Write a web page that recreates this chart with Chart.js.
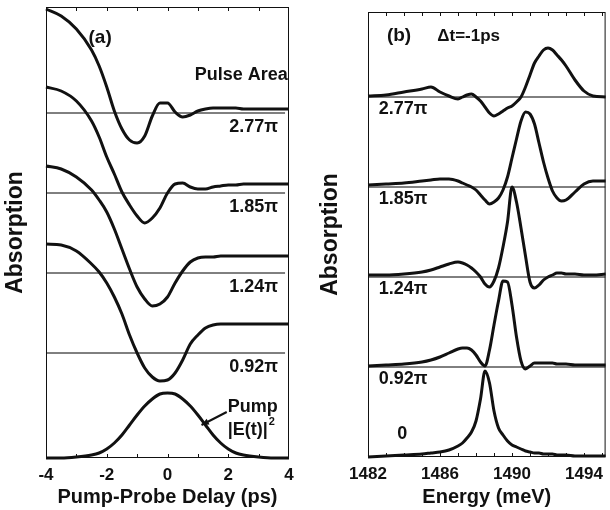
<!DOCTYPE html>
<html>
<head>
<meta charset="utf-8">
<script src="https://cdn.jsdelivr.net/npm/chart.js@4.4.1/dist/chart.umd.min.js"></script>
<style>
  html, body { margin: 0; padding: 0; background: #fff; }
  #wrap { position: relative; width: 610px; height: 510px; }
  canvas { position: absolute; top: 0; }
  #chartA { left: 0; }
  #chartB { left: 305px; }
</style>
</head>
<body>
<div id="wrap">
  <canvas id="chartA" width="305" height="510"></canvas>
  <canvas id="chartB" width="305" height="510"></canvas>
</div>
<script>
// ---- panel (a): absorption vs pump-probe delay ----
const delay = [-4, -3.5, -3, -2.5, -2.25, -2, -1.75, -1.5, -1.25, -1, -0.75, -0.5, -0.25, 0,
               0.25, 0.5, 0.75, 1, 1.25, 1.5, 1.75, 2, 2.25, 2.5, 3, 3.5, 4];
const delayLabels = [-4, -2, 0, 2, 4];
const delayMinor = [-3, -2, -1, 0, 1, 2, 3];
const areaNames = ["2.77π", "1.85π", "1.24π", "0.92π"];
const offsetsA = [345, 265, 185, 105];   // trace offsets (vertical shift)
const abs277 = [104, 97, 84, 63, 47, 26, 2, -16, -27, -30, -23, -3, 10, 10, 1, -4, -2, 2, 4, 5, 5, 5, 5, 4, 4, 4, 4];
const abs185 = [106, 102, 92, 72, 56, 36, 19, 1, -12, -23, -30, -25, -15, 0, 9, 10, 6, 4, 4, 6, 7, 8, 8, 9, 9, 9, 9];
const abs124 = [107, 104, 96, 83, 73, 61, 44, 24, 4, -14, -26, -33, -31, -24, -10, 2, 11, 15, 16, 16, 17, 17, 17, 17, 17, 17, 17];
const abs092 = [109, 108, 102, 89, 81, 70, 56, 39, 18, 0, -15, -24, -28, -27, -20, -7, 9, 18, 25, 28, 29, 29, 29, 29, 29, 29, 29];
const pumpInt = [0, 0, 1, 3, 5, 9, 15, 23, 33, 43, 52, 59, 64, 65, 64, 59, 52, 43, 33, 23, 15, 9, 5, 3, 1, 0, 0];

// ---- panel (b): absorption spectra at dt = -1 ps ----
const energy = [1482, 1483, 1484, 1485, 1485.5, 1486, 1486.5, 1487, 1487.25, 1487.5, 1487.75, 1488,
                1488.25, 1488.5, 1488.75, 1489, 1489.25, 1489.5, 1489.75, 1490, 1490.25, 1490.5, 1490.75,
                1491, 1491.25, 1491.5, 1491.75, 1492, 1492.25, 1492.5, 1492.75, 1493, 1493.5, 1494, 1494.5, 1495.2];
const energyLabels = [1482, 1486, 1490, 1494];
const energyMinor = [1483, 1484, 1485, 1486, 1487, 1488, 1489, 1490, 1491, 1492, 1493, 1494, 1495];
const specNames = ["2.77π", "1.85π", "1.24π", "0.92π", "0"];
const offsetsB = [360, 270, 180, 90, 0];
const spec277 = [1, 2, 5, 8, 10, 5, 1, -2, 0, 2, 3, 0, -4, -10, -16, -19, -17, -14, -11, -9, -5, 0, 10, 22, 34, 41, 47, 49, 47, 42, 37, 31, 17, 6, 1, 0];
const spec185 = [2, 3, 4, 6, 7, 8, 8, 6, 4, 2, 0, -3, -8, -13, -17, -15, -11, -3, 10, 29, 48, 66, 75, 73, 63, 44, 25, 9, -4, -11, -14, -13, -5, 3, 6, 6];
const spec124 = [2, 2, 3, 5, 7, 10, 13, 15, 14, 12, 9, 5, 0, -7, -10, -4, 9, 30, 55, 90, 75, 49, 21, -5, -11, -8, -3, 0, 2, 4, 4, 3, 3, 2, 2, 3];
const spec092 = [1, 2, 3, 5, 7, 10, 14, 18, 19, 19, 17, 12, 5, 1, 17, 42, 66, 86, 85, 62, 30, 6, -2, 1, 4, 4, 4, 4, 4, 3, 3, 3, 2, 2, 2, 2];
const spec0 = [0, 1, 2, 3, 4, 5, 7, 11, 14, 19, 25, 36, 58, 86, 74, 46, 29, 22, 16, 12, 10, 8, 6, 5, 4, 4, 3, 3, 3, 2, 2, 2, 1, 1, 1, 1];

const FONT = "'Liberation Sans', Arial, Helvetica, sans-serif";
const INK = "#111";

function trace(xs, ys, base) {
  return {
    data: xs.map((x, i) => ({ x: x, y: base + ys[i] })),
    borderColor: INK, borderWidth: 3, pointRadius: 0,
    cubicInterpolationMode: "monotone", fill: false, order: 1, clip: 6
  };
}
function baseLine(x0, x1, base) {
  return {
    data: [{ x: x0, y: base }, { x: x1, y: base }],
    borderColor: "#000", borderWidth: 1, pointRadius: 0, order: 2
  };
}

// frame, inward ticks and text notes
function framePlugin(minor, notes, arrow) {
  return {
    id: "frameNotes",
    afterDatasetsDraw(chart) {
      const { ctx, chartArea: a } = chart;
      const x = chart.scales.x, y = chart.scales.y;
      ctx.save();
      ctx.strokeStyle = INK;
      ctx.lineWidth = 1;
      ctx.strokeRect(a.left + 0.5, a.top + 0.5, a.right - a.left - 1, a.bottom - a.top - 1);
      ctx.beginPath();
      minor.forEach(v => {
        const px = Math.round(x.getPixelForValue(v)) + 0.5;
        ctx.moveTo(px, a.top); ctx.lineTo(px, a.top + 4);
        ctx.moveTo(px, a.bottom); ctx.lineTo(px, a.bottom - 4);
      });
      ctx.stroke();

      ctx.fillStyle = INK;
      ctx.textBaseline = "middle";
      notes.forEach(n => {
        ctx.font = "bold " + n.size + "px " + FONT;
        ctx.textAlign = n.align || "left";
        const px = x.getPixelForValue(n.x), py = y.getPixelForValue(n.y);
        ctx.fillText(n.text, px, py);
        if (n.sup) {
          const w = ctx.measureText(n.text).width;
          ctx.font = "bold " + Math.round(n.size * 0.62) + "px " + FONT;
          ctx.textAlign = "left";
          ctx.fillText(n.sup, px + w + 1, py - n.size * 0.45);
        }
      });

      if (arrow) {
        const x0 = x.getPixelForValue(arrow[0]), y0 = y.getPixelForValue(arrow[1]);
        const x1 = x.getPixelForValue(arrow[2]), y1 = y.getPixelForValue(arrow[3]);
        const ang = Math.atan2(y1 - y0, x1 - x0);
        ctx.lineWidth = 2;
        ctx.beginPath();
        ctx.moveTo(x0, y0); ctx.lineTo(x1, y1);
        ctx.stroke();
        ctx.beginPath();
        ctx.moveTo(x1, y1);
        ctx.lineTo(x1 - 8 * Math.cos(ang - 0.4), y1 - 8 * Math.sin(ang - 0.4));
        ctx.lineTo(x1 - 8 * Math.cos(ang + 0.4), y1 - 8 * Math.sin(ang + 0.4));
        ctx.closePath();
        ctx.fill();
      }
      ctx.restore();
    }
  };
}

function axes(xmin, xmax, xLabels, xTitle, ymax, yWidth, xHeight, yTitlePad) {
  return {
    x: {
      type: "linear", min: xmin, max: xmax,
      afterBuildTicks: s => { s.ticks = xLabels.map(v => ({ value: v })); },
      afterFit: s => { s.height = xHeight; },
      grid: { display: false, drawTicks: false },
      border: { display: false },
      ticks: { color: INK, padding: 7, maxRotation: 0, autoSkip: false,
               callback: v => String(v),
               font: { family: FONT, size: 17, weight: "bold" } },
      title: { display: true, text: xTitle, color: INK, padding: { top: 0, bottom: 1 },
               font: { family: FONT, size: 20, weight: "bold" } }
    },
    y: {
      min: 0, max: ymax,
      afterFit: s => { s.width = yWidth; },
      grid: { display: false, drawTicks: false },
      border: { display: false },
      ticks: { display: false },
      title: { display: true, text: "Absorption", color: INK, padding: { top: yTitlePad, bottom: 0 },
               font: { family: FONT, size: 23, weight: "bold" } }
    }
  };
}

const sharedOpts = {
  responsive: false, animation: false,
  plugins: { legend: { display: false }, tooltip: { enabled: false } }
};

// panel (a)
const seriesA = [abs277, abs185, abs124, abs092];
const dsA = [];
seriesA.forEach((s, i) => {
  dsA.push(trace(delay, s, offsetsA[i]));
  dsA.push(baseLine(-4, 3.87, offsetsA[i]));
});
dsA.push(trace(delay, pumpInt, 0));

const notesA = [
  { text: "(a)", x: -2.6, y: 420, size: 19 },
  { text: "Pulse Area", x: 3.96, y: 383, size: 18, align: "right" },
  { text: "Pump", x: 1.98, y: 51, size: 18 },
  { text: "|E(t)|", x: 1.98, y: 28, size: 18, sup: "2" }
].concat(areaNames.map((t, i) => ({ text: t, x: 3.64, y: offsetsA[i] - 14, size: 18, align: "right" })));

new Chart(document.getElementById("chartA"), {
  type: "line",
  data: { datasets: dsA },
  options: Object.assign({}, sharedOpts, {
    layout: { padding: { left: 0, right: 16, top: 7, bottom: 0 } },
    scales: axes(-4, 4, delayLabels, "Pump-Probe Delay (ps)", 451, 46, 52, 2)
  }),
  plugins: [framePlugin(delayMinor, notesA, [1.95, 46, 1.12, 33])]
});

// panel (b)
const seriesB = [spec277, spec185, spec124, spec092, spec0];
const dsB = [];
seriesB.forEach((s, i) => {
  dsB.push(trace(energy, s, offsetsB[i]));
  if (i < 4) dsB.push(baseLine(1482, 1495.2, offsetsB[i]));
});

const notesB = [
  { text: "(b)", x: 1483.05, y: 421, size: 19 },
  { text: "Δt=-1ps", x: 1485.85, y: 421, size: 17 },
  { text: "0", x: 1483.9, y: 23, size: 18, align: "center" }
].concat(specNames.slice(0, 4).map((t, i) => ({ text: t, x: 1482.6, y: offsetsB[i] - 12, size: 18 })));

new Chart(document.getElementById("chartB"), {
  type: "line",
  data: { datasets: dsB },
  options: Object.assign({}, sharedOpts, {
    layout: { padding: { left: 0, right: 1, top: 12, bottom: 0 } },
    scales: axes(1482, 1495.2, energyLabels, "Energy (meV)", 445, 63, 53, 12)
  }),
  plugins: [framePlugin(energyMinor, notesB, null)]
});
</script>
</body>
</html>
